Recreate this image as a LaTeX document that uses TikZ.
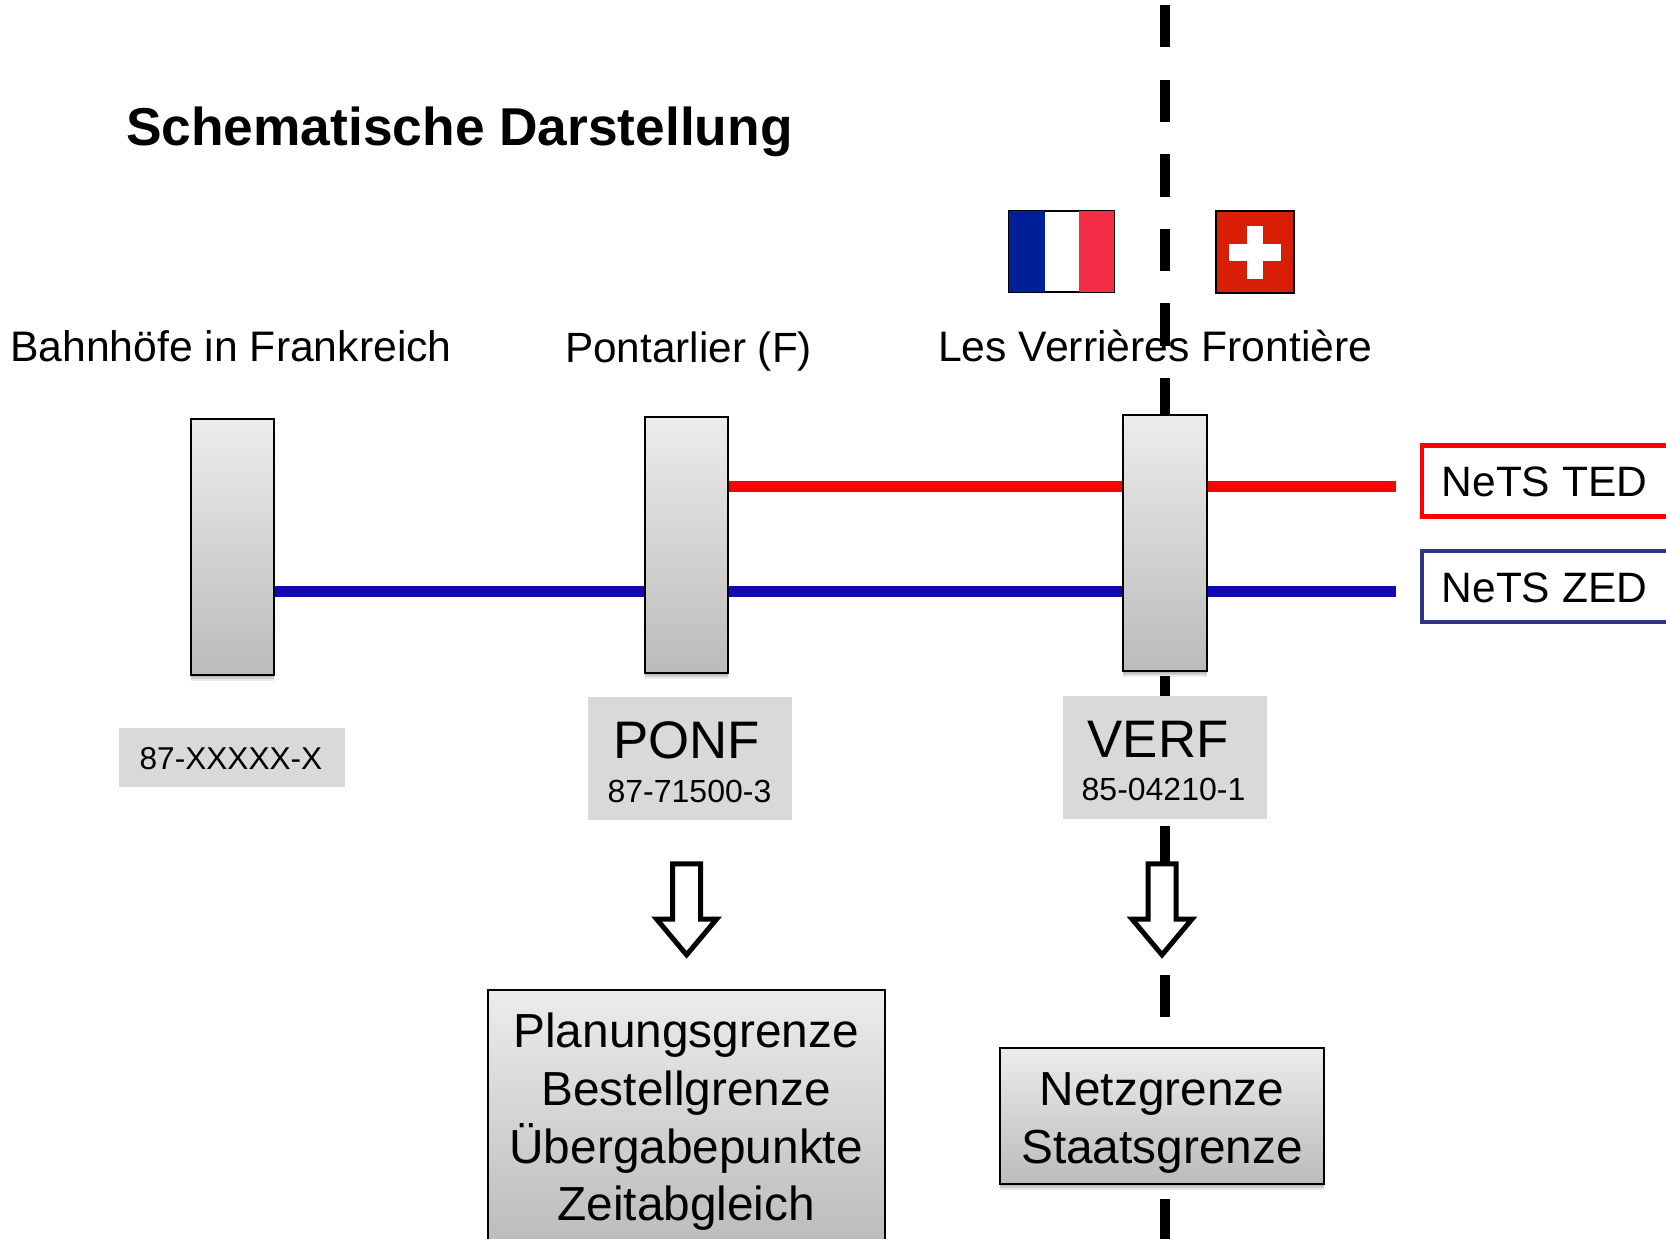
\documentclass[tikz,border=0pt]{standalone}
\usepackage{fontspec}
\setmainfont{Liberation Sans}
\usetikzlibrary{shapes.arrows,shadows}
\definecolor{boxtop}{HTML}{ECECEC}
\definecolor{boxbottom}{HTML}{BBBBBB}
\definecolor{labelgrey}{HTML}{D9D9D9}
\definecolor{tedred}{HTML}{FF0000}
\definecolor{zedblue}{HTML}{0F08B4}
\definecolor{zedframe}{HTML}{2F3580}
\definecolor{frblue}{HTML}{00209A}
\definecolor{frred}{HTML}{F52C46}
\definecolor{chred}{HTML}{D81E05}
\tikzset{
  softshade/.style={
    drop shadow={shadow xshift=0pt,shadow yshift=-2pt,fill=black,opacity=.12},
    drop shadow={shadow xshift=0pt,shadow yshift=-4pt,fill=black,opacity=.12},
    drop shadow={shadow xshift=0pt,shadow yshift=-6pt,fill=black,opacity=.08}},
  stationbox/.style={draw=black,line width=2pt,top color=boxtop,bottom color=boxbottom,softshade,
    minimum width=82.5pt,minimum height=256pt,inner sep=0pt},
  infobox/.style={draw=black,line width=2pt,top color=boxtop,bottom color=boxbottom,softshade,
    align=center,inner sep=0pt,font=\fontsize{47.8}{57.7}\selectfont},
  greybox/.style={fill=labelgrey,inner sep=0pt},
  netsbox/.style={draw,line width=4.5pt,fill=white,inner sep=0pt,minimum width=248pt,minimum height=71pt},
  headline/.style={anchor=base west,inner sep=0pt,font=\fontsize{42.7}{50}\selectfont},
  netstext/.style={anchor=base west,inner sep=0pt,font=\fontsize{42.5}{50}\selectfont},
  bigcode/.style={anchor=base,inner sep=0pt,font=\fontsize{52.8}{60}\selectfont},
  smallcode/.style={anchor=base,inner sep=0pt,font=\fontsize{32}{40}\selectfont},
  downarrow/.style={single arrow,draw=black,fill=white,line width=5pt,inner sep=0pt,
    text width=23pt,minimum height=91pt,single arrow head extend=16pt,
    single arrow tip angle=80,shape border rotate=270},
  rail/.style={line width=11pt}
}
\begin{document}
\begin{tikzpicture}[x=1pt,y=-1pt]
\useasboundingbox (0,0) rectangle (1666,1239);
\coordinate (bordertop) at (1165,5);
\coordinate (borderbottom) at (1165,1239);
\coordinate (tedend) at (1395.5,486);
\coordinate (zedend) at (1395.5,591);
\draw[line width=10.8pt,dash pattern=on 42.5pt off 32.1pt] (bordertop) -- (borderbottom);

\node[anchor=base west,inner sep=0pt,font=\fontsize{53.3}{60}\selectfont\bfseries] (title) at (126,145) {Schematische Darstellung};

% flags
\node[draw=black,line width=2pt,fill=white,inner sep=0pt,minimum width=105pt,minimum height=81pt] (frflag) at (1061.5,251) {};
\fill[frblue] ([shift={(1pt,1pt)}]frflag.south west) rectangle (1044.7,211.4);
\fill[frred] ([shift={(-1pt,1pt)}]frflag.south east) rectangle (1079,211.4);
\node[draw=black,line width=2pt,fill=chred,inner sep=0pt,minimum width=78pt,minimum height=82pt] (chflag) at (1254.6,251.5) {};
\fill[white] (1228.8,244) rectangle (1281,260.5);
\fill[white] (1246.9,226) rectangle (1262.6,279);

\node[headline] (bahnhoefe) at (10,361.5) {Bahnhöfe in Frankreich};
\node[headline,font=\fontsize{42.3}{50}\selectfont] (pontarlier) at (565,362) {Pontarlier (F)};
\node[headline] (verrieres) at (938,361) {Les Verrières Frontière};

\node[stationbox] (frstation) at (232.4,547) {};
\node[stationbox] (ponfstation) at (686.5,545) {};
\node[stationbox,minimum width=84pt] (verfstation) at (1165.1,543) {};

\draw[rail,tedred] (ponfstation.east |- tedend) -- (verfstation.west |- tedend);
\draw[rail,tedred] (verfstation.east |- tedend) -- (tedend);
\draw[rail,zedblue] (frstation.east |- zedend) -- (ponfstation.west |- zedend);
\draw[rail,zedblue] (ponfstation.east |- zedend) -- (verfstation.west |- zedend);
\draw[rail,zedblue] (verfstation.east |- zedend) -- (zedend);

\node[netsbox,draw=tedred] (tedbox) at (1546,480.8) {};
\node[netsbox,draw=zedframe] (zedbox) at (1546,586.5) {};
\node[netstext] (tedtext) at (1441.5,496.6) {NeTS TED};
\node[netstext] (zedtext) at (1441.5,602.7) {NeTS ZED};

\node[greybox,minimum width=226pt,minimum height=59pt] (frlabel) at (232,757.5) {};
\node[smallcode,font=\fontsize{31.6}{40}\selectfont] (frcode) at (231,769.5) {87-XXXXX-X};
\node[greybox,minimum width=204pt,minimum height=123pt] (ponflabel) at (690,758.3) {};
\node[bigcode] (ponfname) at (686.4,758.4) {PONF};
\node[smallcode] (ponfcode) at (689.5,802) {87-71500-3};
\node[greybox,minimum width=204pt,minimum height=123pt] (verflabel) at (1165,757.3) {};
\node[bigcode] (verfname) at (1158,757) {VERF};
\node[smallcode] (verfcode) at (1163.5,800.5) {85-04210-1};

\node[downarrow] (ponfarrow) at (686.6,901) {};
\node[downarrow] (verfarrow) at (1162,901) {};

\node[infobox,minimum width=397pt,minimum height=258pt] (ponfbox) at (686.2,1119) {\rule{0pt}{40.5pt}Planungsgrenze\\Bestellgrenze\\Übergabepunkte\\Zeitabgleich};
\node[infobox,minimum width=324pt,minimum height=136pt] (verfbox) at (1162,1116) {\rule{0pt}{47pt}Netzgrenze\\Staatsgrenze};
\end{tikzpicture}
\end{document}
